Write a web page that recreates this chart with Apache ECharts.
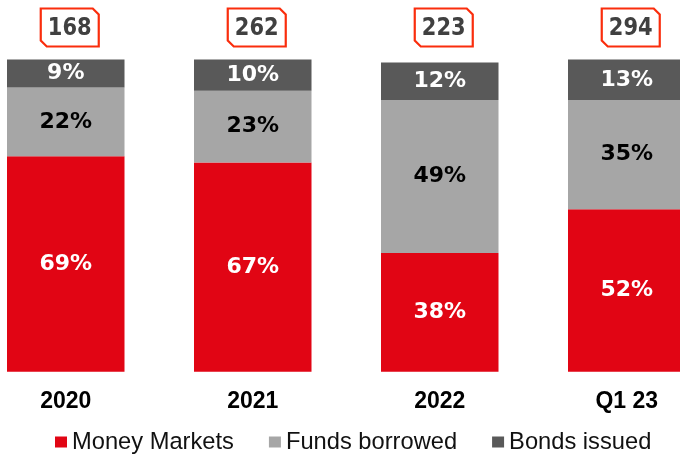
<!DOCTYPE html>
<html>
<head>
<meta charset="utf-8">
<script src="https://cdn.jsdelivr.net/npm/echarts@6/dist/echarts.min.js"></script>
<style>html,body{margin:0;padding:0;background:#fff;}#c{width:680px;height:455px;}</style>
</head>
<body>
<div id="c"></div>
<script>
const categories = ['2020', '2021', '2022', 'Q1 23'];
const moneyMarkets = [69, 67, 38, 52];
const fundsBorrowed = [22, 23, 49, 35];
const bondsIssued = [9, 10, 12, 13];
const totals = [168, 262, 223, 294];

const chart = echarts.init(document.getElementById('c'));
const pctFont = { fontFamily: 'DejaVu Sans', fontWeight: 'bold', fontSize: 22 };
function barSeries(name, data, color, labelColor) {
  return {
    name: name, type: 'bar', stack: 'total', data: data, barWidth: 117.5,
    itemStyle: { color: color },
    label: Object.assign({ show: true, position: 'inside', formatter: '{c}%', color: labelColor }, pctFont),
    emphasis: { disabled: true }
  };
}
const Y_MAX = 100;
chart.setOption({
  animation: false,
  grid: { left: -27.75, width: 748, top: 59.5, height: 312.2, containLabel: false, outerBoundsMode: 'none' },
  xAxis: {
    type: 'category', data: categories,
    axisLine: { show: false }, axisTick: { show: false },
    axisLabel: { color: '#000', fontFamily: 'Liberation Sans', fontWeight: 'bold', fontSize: 23, margin: 18 }
  },
  yAxis: { type: 'value', min: 0, max: Y_MAX, show: false, splitLine: { show: false } },
  legend: {
    data: ['Money Markets', 'Funds borrowed', 'Bonds issued'],
    left: 55, top: 430, padding: 0, itemGap: 35, itemWidth: 12, itemHeight: 11, icon: 'rect',
    textStyle: { color: '#111', fontFamily: 'Liberation Sans', fontSize: 23.7 }
  },
  series: [
    barSeries('Money Markets', moneyMarkets, '#e10514', '#fff'),
    barSeries('Funds borrowed', fundsBorrowed, '#a6a6a6', '#000'),
    barSeries('Bonds issued', bondsIssued, '#595959', '#fff'),
    {
      type: 'custom', name: 'totals', silent: true,
      data: totals.map((t, i) => [i, t]),
      renderItem: function (params, api) {
        const p = api.coord([api.value(0), Y_MAX]);
        const cx = p[0] + 4, cy = p[1] - 32;
        const w = 58, h = 38, c = 6;
        const x0 = cx - w / 2, x1 = cx + w / 2, y0 = cy - h / 2, y1 = cy + h / 2;
        return {
          type: 'group',
          children: [
            { type: 'polygon', shape: { points: [[x0, y0], [x1 - c, y0], [x1, y0 + c], [x1, y1], [x0 + c, y1], [x0, y1 - c]] },
              style: { fill: '#fff', stroke: '#fa2d0c', lineWidth: 2.2 } },
            { type: 'text', x: cx, y: cy + 1, scaleX: 0.84, scaleY: 1,
              style: { text: String(api.value(1)), x: 0, y: 0, align: 'center', verticalAlign: 'middle',
              fill: '#404040', font: 'bold 25px "DejaVu Sans"' } }
          ]
        };
      }
    }
  ]
});
</script>
</body>
</html>
